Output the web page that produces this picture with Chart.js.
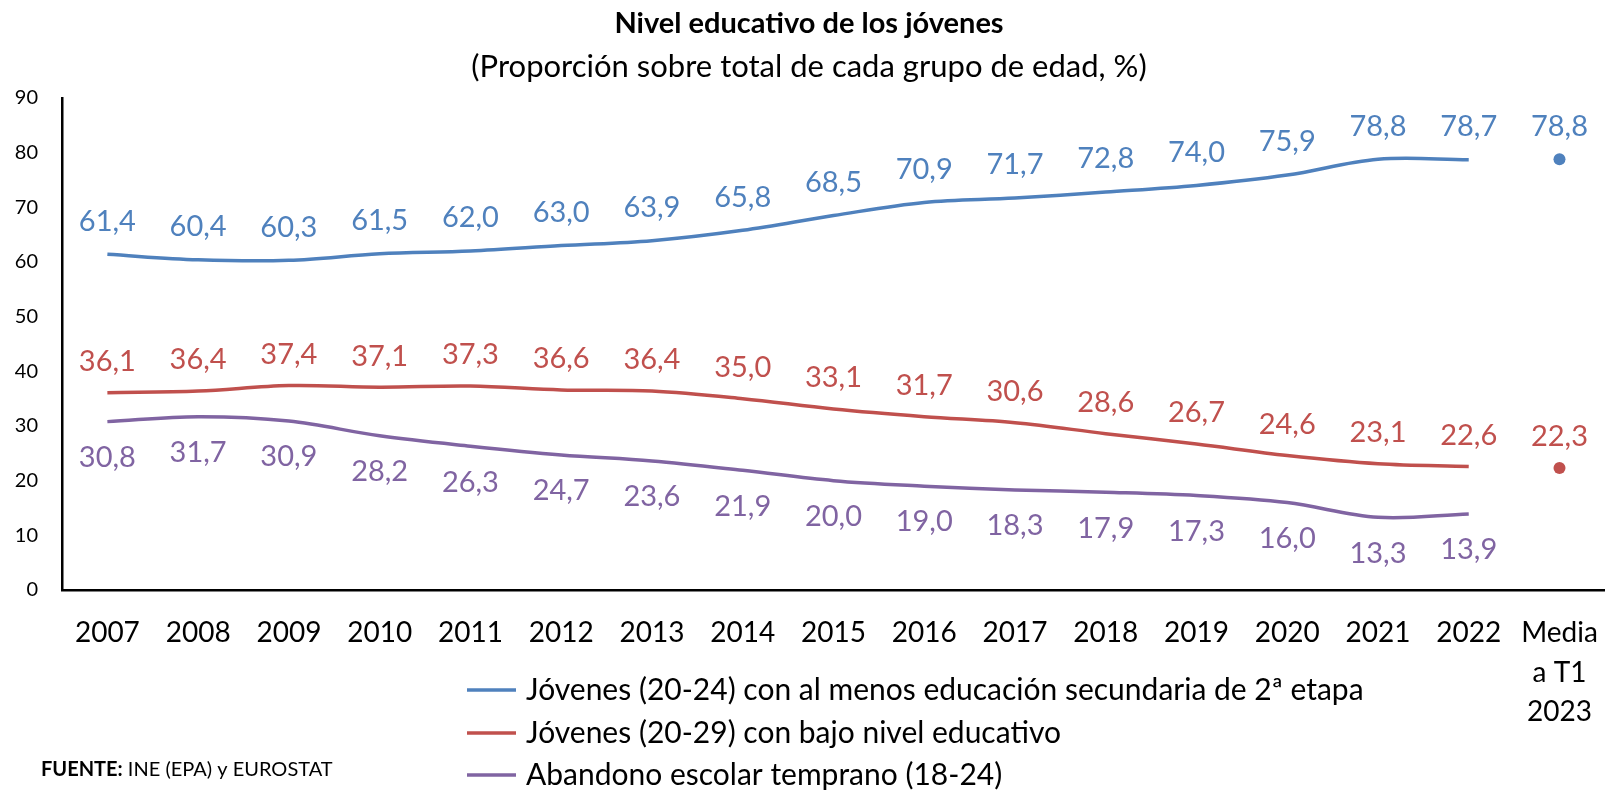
<!DOCTYPE html>
<html>
<head>
<meta charset="utf-8">
<script src="https://cdn.jsdelivr.net/npm/chart.js@4.4.1/dist/chart.umd.min.js"></script>
<style>
html,body{margin:0;padding:0;background:#fff;}
#wrap{width:1621px;height:792px;}
</style>
</head>
<body>
<div id="wrap"><canvas id="c" width="1621" height="792"></canvas></div>
<script>
const categories = ['2007','2008','2009','2010','2011','2012','2013','2014','2015','2016','2017','2018','2019','2020','2021','2022',['Media','a T1','2023']];
const seriesNames = [
  'Jóvenes (20-24) con al menos educación secundaria de 2ª etapa',
  'Jóvenes (20-29) con bajo nivel educativo',
  'Abandono escolar temprano (18-24)'
];
const secundaria = [61.4,60.4,60.3,61.5,62.0,63.0,63.9,65.8,68.5,70.9,71.7,72.8,74.0,75.9,78.8,78.7];
const bajoNivel  = [36.1,36.4,37.4,37.1,37.3,36.6,36.4,35.0,33.1,31.7,30.6,28.6,26.7,24.6,23.1,22.6];
const abandono   = [30.8,31.7,30.9,28.2,26.3,24.7,23.6,21.9,20.0,19.0,18.3,17.9,17.3,16.0,13.3,13.9];
const mediaT1 = [78.8, 22.3, null];
const yTicks = [0,10,20,30,40,50,60,70,80,90];

const FONT = 'Lato, "Open Sans", sans-serif';
const colors = ['#4F81BD','#C0504D','#8064A2'];
const labelOffsets = [-33, -31, 36];
const series = [secundaria, bajoNivel, abandono];

const datasets = [];
series.forEach((s,i)=>{
  datasets.push({
    label: seriesNames[i],
    data: s.concat([null]),
    borderColor: colors[i],
    backgroundColor: colors[i],
    borderWidth: 3.5,
    pointRadius: 0,
    tension: 0.35,
    spanGaps: false,
    _lblOff: labelOffsets[i],
    _legend: true
  });
});
mediaT1.forEach((v,i)=>{
  const arr = categories.map((c,j)=> j===categories.length-1 ? v : null);
  datasets.push({
    label: seriesNames[i] + ' (Media T1 2023)',
    data: arr,
    borderColor: colors[i],
    backgroundColor: colors[i],
    showLine: false,
    pointRadius: 6,
    pointHoverRadius: 6,
    borderWidth: 0,
    _lblOff: labelOffsets[i],
    _legend: false
  });
});

const labelPlugin = {
  id: 'valueLabels',
  afterDatasetsDraw(chart){
    const ctx = chart.ctx;
    ctx.save();
    ctx.font = '29px ' + FONT;
    ctx.textAlign = 'center';
    ctx.textBaseline = 'middle';
    chart.data.datasets.forEach((ds,di)=>{
      const meta = chart.getDatasetMeta(di);
      meta.data.forEach((pt,j)=>{
        const v = ds.data[j];
        if(v===null || v===undefined) return;
        ctx.fillStyle = ds.borderColor;
        ctx.fillText(v.toFixed(1).replace('.',','), pt.x, pt.y + ds._lblOff);
      });
    });
    ctx.restore();
  }
};

const legendPlugin = {
  id: 'customLegend',
  afterDraw(chart){
    const ctx = chart.ctx;
    ctx.save();
    const rows = [690, 733, 775];
    const items = chart.data.datasets.filter(d=>d._legend);
    items.forEach((ds,i)=>{
      ctx.strokeStyle = ds.borderColor;
      ctx.lineWidth = 3.5;
      ctx.beginPath();
      ctx.moveTo(467, rows[i]);
      ctx.lineTo(516, rows[i]);
      ctx.stroke();
      ctx.fillStyle = '#000';
      ctx.font = '30px ' + FONT;
      ctx.textAlign = 'left';
      ctx.textBaseline = 'middle';
      ctx.fillText(ds.label, 526, rows[i]);
    });
    // source note
    ctx.textBaseline = 'middle';
    ctx.font = 'bold 20px ' + FONT;
    ctx.fillStyle = '#000';
    const b = 'FUENTE:';
    ctx.fillText(b, 41, 770);
    const w = ctx.measureText(b).width;
    ctx.font = '20px ' + FONT;
    ctx.fillText(' INE (EPA) y EUROSTAT', 41 + w, 770);
    ctx.restore();
  }
};

new Chart(document.getElementById('c'), {
  type: 'line',
  data: { labels: categories, datasets },
  options: {
    responsive: false,
    animation: false,
    events: [],
    layout: { padding: { left: 0, right: 3, top: 0, bottom: 0 } },
    plugins: {
      legend: { display: false },
      tooltip: { enabled: false },
      title: {
        display: true,
        text: 'Nivel educativo de los jóvenes',
        color: '#000',
        font: { family: FONT, size: 29, weight: 'bold' },
        padding: { top: 6, bottom: 8 }
      },
      subtitle: {
        display: true,
        text: '(Proporción sobre total de cada grupo de edad, %)',
        color: '#000',
        font: { family: FONT, size: 31 },
        padding: { top: 0, bottom: 12 }
      }
    },
    scales: {
      x: {
        type: 'category',
        offset: true,
        grid: { display: false, drawTicks: false },
        border: { display: true, color: '#000', width: 2.5 },
        ticks: {
          color: '#000',
          font: { family: FONT, size: 28, lineHeight: 1.42 },
          padding: 23,
          maxRotation: 0,
          autoSkip: false
        },
        afterFit(scale){ scale.height = 202; }
      },
      y: {
        min: 0, max: 90,
        afterBuildTicks(scale){ scale.ticks = yTicks.map(v=>({value:v})); },
        grid: { display: false, drawTicks: false },
        border: { display: true, color: '#000', width: 2.5 },
        ticks: {
          color: '#000',
          font: { family: FONT, size: 20 },
          padding: 24
        },
        afterFit(scale){ scale.width = 62; }
      }
    }
  },
  plugins: [labelPlugin, legendPlugin]
});
</script>
</body>
</html>
